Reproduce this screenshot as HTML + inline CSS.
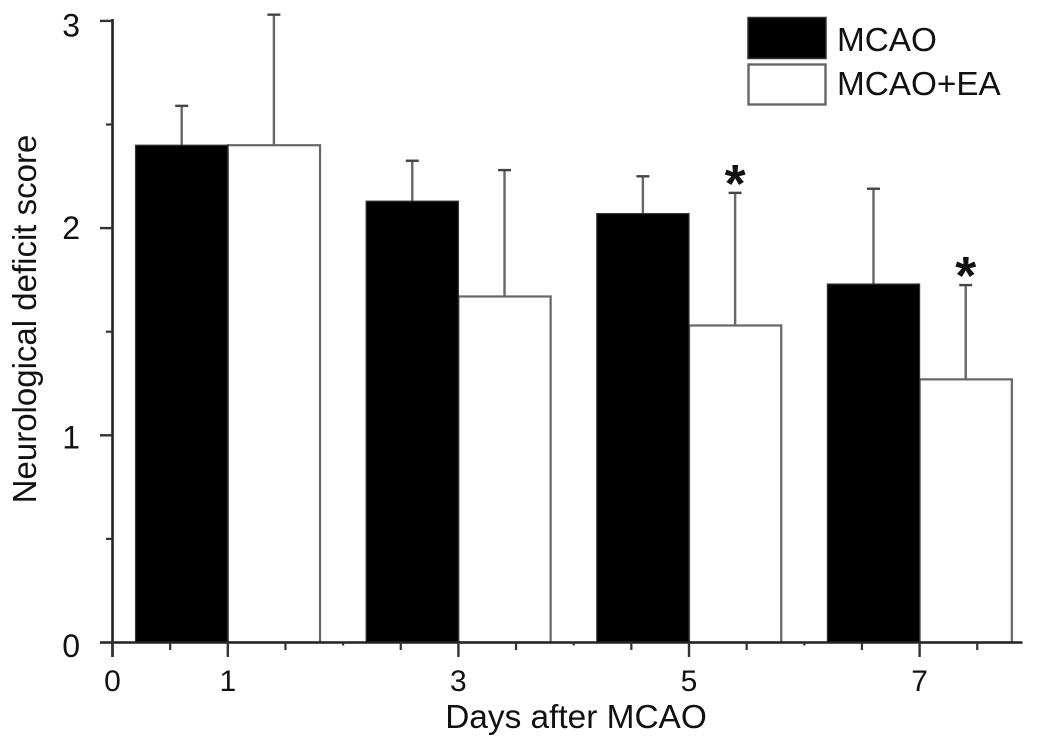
<!DOCTYPE html>
<html lang="en">
<head>
<meta charset="utf-8">
<title>Neurological deficit score</title>
<style>
html,body{margin:0;padding:0;background:#fff;}
svg{display:block;}
text{font-family:"Liberation Sans",Arial,sans-serif;fill:#111;}
</style>
</head>
<body>
<svg id="chart" xmlns="http://www.w3.org/2000/svg" width="1063" height="740" viewBox="0 0 1063 740"></svg>
<script>
const days = [1, 3, 5, 7];
const mcaoValues = [2.4, 2.13, 2.07, 1.73];
const mcaoErrors = [0.19, 0.195, 0.18, 0.46];
const eaValues = [2.4, 1.67, 1.53, 1.27];
const eaErrors = [0.63, 0.61, 0.64, 0.455];
const significant = [false, false, true, true];
const yTickLabels = [0, 1, 2, 3];
const xTickLabels = [0, 1, 3, 5, 7];
const yMinorTicks = [0.5, 1.5, 2.5];
const xMinorTicks = [0.5, 1.5, 2, 2.5, 3.5, 4, 4.5, 5.5, 6, 6.5, 7.5];

const svg = document.getElementById('chart');
const NS = 'http://www.w3.org/2000/svg';
const xScale = v => 112.5 + v * 115.3;
const yScale = v => 642.5 - v * 207.2;
const yLabelNudge = v => (v === 2 ? 11 : v === 1 ? 13 : v === 3 ? 15.5 : 14.5);
const barUnits = 0.8;
const AXIS = '#222';
const STROKE = '#666';

function make(tag, attrs, text) {
  const el = document.createElementNS(NS, tag);
  for (const k in attrs) el.setAttribute(k, attrs[k]);
  if (text !== undefined) el.textContent = text;
  svg.appendChild(el);
  return el;
}
function line(x1, y1, x2, y2, color, width) {
  return make('line', {x1: x1, y1: y1, x2: x2, y2: y2, stroke: color, 'stroke-width': width});
}
function errorBar(x, value, err, prefix) {
  const stem = line(x, yScale(value), x, yScale(value + err), STROKE, 2.4);
  
  
  const cap = line(x - 6.5, yScale(value + err), x + 6.5, yScale(value + err), '#444', 2.4);
  
  
}

days.forEach((d, i) => {
  const left = xScale(d - barUnits);
  const mid = xScale(d);
  const right = xScale(d + barUnits);

  errorBar((left + mid) / 2, mcaoValues[i], mcaoErrors[i], 'mcao-day-' + d);
  errorBar((mid + right) / 2, eaValues[i], eaErrors[i], 'mcao-ea-day-' + d);

  const white = make('rect', {x: mid, y: yScale(eaValues[i]), width: right - mid, height: yScale(0) - yScale(eaValues[i]), fill: '#fff', stroke: STROKE, 'stroke-width': 2.2});
  
  

  const black = make('rect', {x: left, y: yScale(mcaoValues[i]), width: mid - left, height: yScale(0) - yScale(mcaoValues[i]), fill: '#000', stroke: '#333', 'stroke-width': 1.2});
  
  

  if (significant[i]) {
    const star = make('text', {x: (mid + right) / 2, y: yScale(eaValues[i] + eaErrors[i]) + 9, 'text-anchor': 'middle', 'font-size': 54, 'font-weight': 'bold'}, '*');
    
    
  }
});

const yAxis = line(112.5, 19, 112.5, 657, AXIS, 2.6);


const xAxis = line(100, yScale(0), 1022.5, yScale(0), AXIS, 2.6);



yTickLabels.forEach(v => {
  const t = line(100, yScale(v), 112.5, yScale(v), '#333', 2.4);
  
  
  const lab = make('text', {x: 80, y: yScale(v) + yLabelNudge(v), 'text-anchor': 'end', 'font-size': 32}, v);
  
  
});
yMinorTicks.forEach(v => {
  const t = line(106, yScale(v), 112.5, yScale(v), '#333', 2.2);
  
  
});
xTickLabels.forEach(v => {
  const t = line(xScale(v), yScale(0), xScale(v), 657, '#333', 2.4);
  
  
  const lab = make('text', {x: xScale(v), y: 691, 'text-anchor': 'middle', 'font-size': 30, fill: '#222'}, v);
  
  
});
xMinorTicks.forEach(v => {
  const t = line(xScale(v), yScale(0), xScale(v), v % 1 === 0 ? 645.5 : 650, '#333', 2.2);
  
  
});

const xTitle = make('text', {x: 576, y: 728, 'text-anchor': 'middle', 'font-size': 33.4}, 'Days after MCAO');


const yTitle = make('text', {x: 0, y: 0, 'text-anchor': 'middle', 'font-size': 33, transform: 'translate(36 319) rotate(-90)'}, 'Neurological deficit score');



const legendBlack = make('rect', {x: 748, y: 17.5, width: 78, height: 41, fill: '#000', stroke: '#333', 'stroke-width': 1.5});


const legendWhite = make('rect', {x: 748.5, y: 64.5, width: 77, height: 40, fill: '#fff', stroke: STROKE, 'stroke-width': 2.4});


const legendA = make('text', {x: 837, y: 51, 'font-size': 33.3}, 'MCAO');


const legendB = make('text', {x: 837, y: 95, 'font-size': 33.3}, 'MCAO+EA');


</script>
</body>
</html>
